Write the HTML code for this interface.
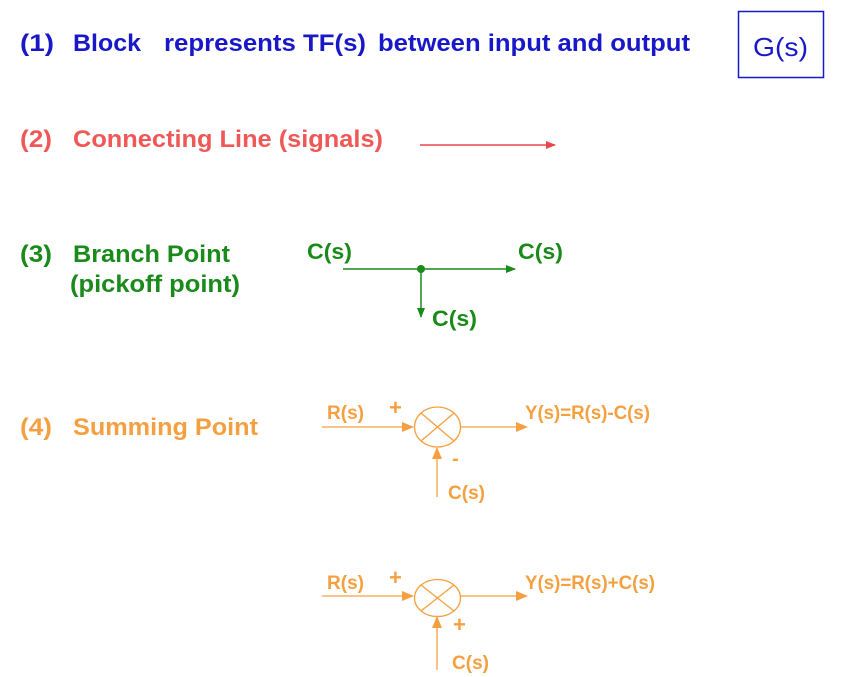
<!DOCTYPE html>
<html><head><style>
html,body{margin:0;padding:0;background:#fff;}
svg{display:block;}
text{font-family:"Liberation Sans",Arial,sans-serif;font-weight:bold;}
</style></head><body>
<svg width="860" height="677" viewBox="0 0 860 677" xmlns="http://www.w3.org/2000/svg">
<defs>
<marker id="ar" markerWidth="10" markerHeight="8" refX="9" refY="4" orient="auto" markerUnits="userSpaceOnUse"><path d="M0,0 L10,4 L0,8 z" fill="#e84848"/></marker>
<marker id="ag" markerWidth="10" markerHeight="8" refX="9" refY="4" orient="auto" markerUnits="userSpaceOnUse"><path d="M0,0 L10,4 L0,8 z" fill="#1a8a1a"/></marker>
<marker id="ao" markerWidth="12" markerHeight="10" refX="11" refY="5" orient="auto" markerUnits="userSpaceOnUse"><path d="M0,0 L12,5 L0,10 z" fill="#f5a040"/></marker>
</defs>
<!-- 1 -->
<g fill="#1818c8" font-size="24">
<text x="20" y="51" textLength="34" lengthAdjust="spacingAndGlyphs">(1)</text>
<text x="73" y="51" textLength="68" lengthAdjust="spacingAndGlyphs">Block</text>
<text x="164" y="51" textLength="202" lengthAdjust="spacingAndGlyphs">represents TF(s)</text>
<text x="378" y="51" textLength="312" lengthAdjust="spacingAndGlyphs">between input and output</text>
</g>
<rect x="738.5" y="11.5" width="85" height="66" fill="none" stroke="#1818c8" stroke-width="1.5"/>
<text x="753" y="56" font-size="26" style="font-weight:normal" fill="#1818c8" textLength="55" lengthAdjust="spacingAndGlyphs">G(s)</text>
<!-- 2 -->
<g fill="#f05858" font-size="24">
<text x="20" y="147" textLength="32" lengthAdjust="spacingAndGlyphs">(2)</text>
<text x="73" y="147" textLength="310" lengthAdjust="spacingAndGlyphs">Connecting Line (signals)</text>
</g>
<line x1="420" y1="145" x2="555" y2="145" stroke="#e84848" stroke-width="1.5" marker-end="url(#ar)"/>
<!-- 3 -->
<g fill="#1a8a1a">
<text x="20" y="262" font-size="24" textLength="32" lengthAdjust="spacingAndGlyphs">(3)</text>
<text x="73" y="262" font-size="24" textLength="157" lengthAdjust="spacingAndGlyphs">Branch Point</text>
<text x="70" y="292" font-size="24" textLength="170" lengthAdjust="spacingAndGlyphs">(pickoff point)</text>
<text x="307" y="259" font-size="22" textLength="45" lengthAdjust="spacingAndGlyphs">C(s)</text>
<text x="518" y="259" font-size="22" textLength="45" lengthAdjust="spacingAndGlyphs">C(s)</text>
<text x="432" y="326" font-size="22" textLength="45" lengthAdjust="spacingAndGlyphs">C(s)</text>
</g>
<line x1="343" y1="269" x2="515" y2="269" stroke="#1a8a1a" stroke-width="1.5" marker-end="url(#ag)"/>
<line x1="421" y1="269" x2="421" y2="317" stroke="#1a8a1a" stroke-width="1.5" marker-end="url(#ag)"/>
<circle cx="421" cy="269" r="4" fill="#1a8a1a"/>
<!-- 4 -->
<g fill="#f5a040" font-size="24">
<text x="20" y="435" textLength="32" lengthAdjust="spacingAndGlyphs">(4)</text>
<text x="73" y="435" textLength="185" lengthAdjust="spacingAndGlyphs">Summing Point</text>
</g>
<g fill="#f5a040" stroke="none">
<text x="327" y="419" font-size="19" textLength="37" lengthAdjust="spacingAndGlyphs">R(s)</text>
<text x="389" y="415" font-size="22">+</text>
<text x="525" y="419" font-size="19" textLength="125" lengthAdjust="spacingAndGlyphs">Y(s)=R(s)-C(s)</text>
<text x="452" y="465" font-size="20">-</text>
<text x="448" y="499" font-size="19" textLength="37" lengthAdjust="spacingAndGlyphs">C(s)</text>
<text x="327" y="589" font-size="19" textLength="37" lengthAdjust="spacingAndGlyphs">R(s)</text>
<text x="389" y="585" font-size="22">+</text>
<text x="525" y="589" font-size="19" textLength="130" lengthAdjust="spacingAndGlyphs">Y(s)=R(s)+C(s)</text>
<text x="453" y="632" font-size="22">+</text>
<text x="452" y="669" font-size="19" textLength="37" lengthAdjust="spacingAndGlyphs">C(s)</text>
</g>
<g stroke="#f5a040" stroke-width="1.3" fill="none">
<line x1="322" y1="427" x2="413" y2="427" marker-end="url(#ao)"/>
<line x1="461" y1="427" x2="527" y2="427" marker-end="url(#ao)"/>
<line x1="437" y1="497" x2="437" y2="448" marker-end="url(#ao)"/>
<ellipse cx="437.5" cy="427" rx="23" ry="20"/>
<line x1="421" y1="413" x2="454" y2="441"/>
<line x1="454" y1="413" x2="421" y2="441"/>
<line x1="322" y1="596" x2="413" y2="596" marker-end="url(#ao)"/>
<line x1="461" y1="596" x2="527" y2="596" marker-end="url(#ao)"/>
<line x1="437" y1="670" x2="437" y2="617" marker-end="url(#ao)"/>
<ellipse cx="437.5" cy="598" rx="23" ry="18.5"/>
<line x1="421" y1="585" x2="454" y2="611"/>
<line x1="454" y1="585" x2="421" y2="611"/>
</g>
</svg>
</body></html>
